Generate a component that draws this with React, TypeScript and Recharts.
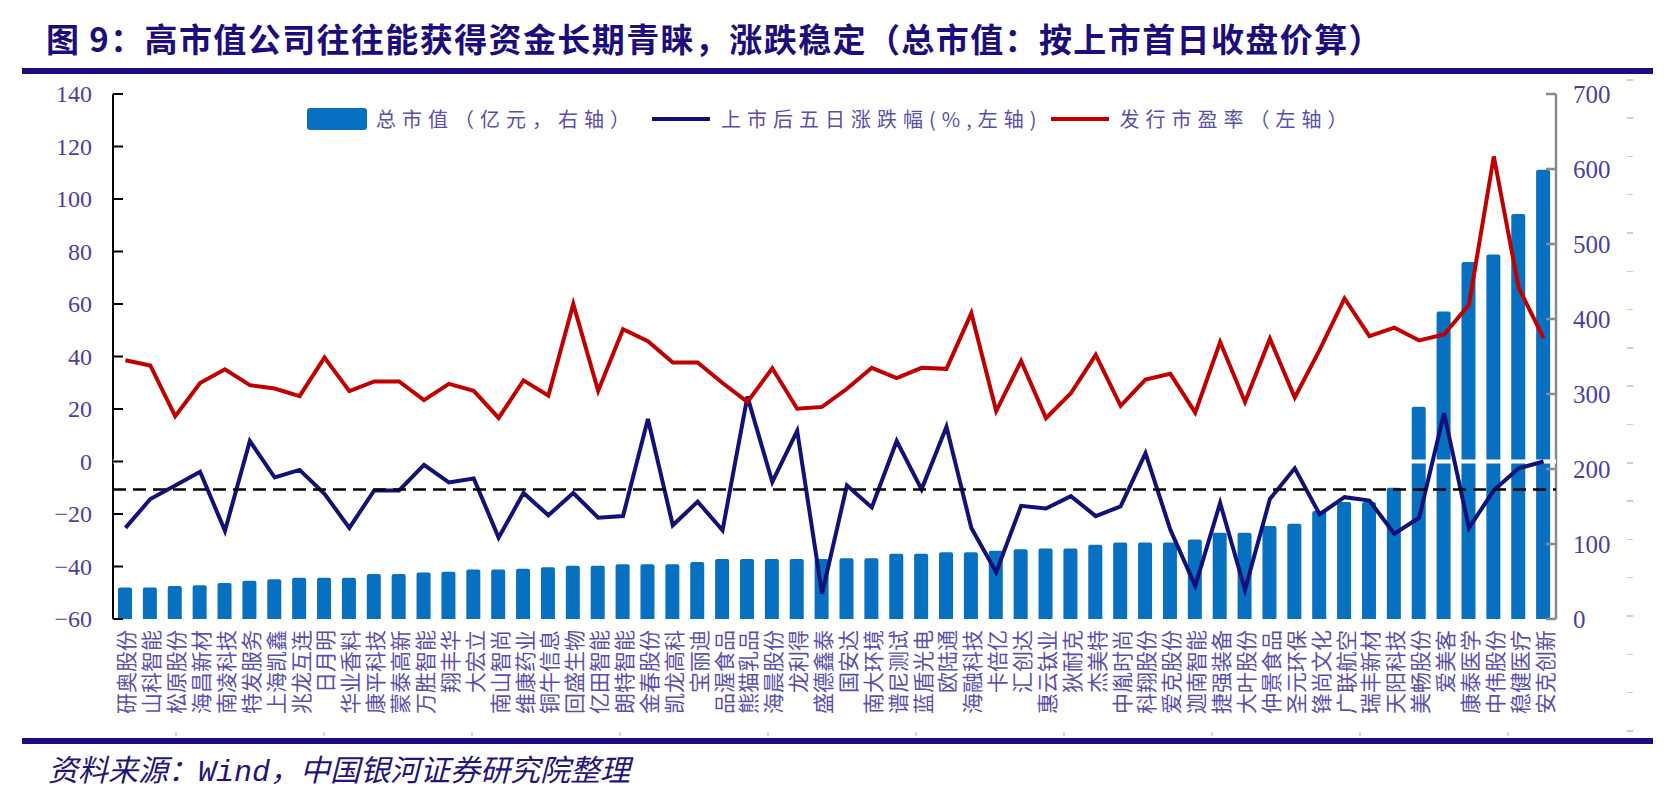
import React from "react";
import {
  ComposedChart,
  Bar,
  Line,
  XAxis,
  YAxis,
  ReferenceLine,
  Legend
} from "recharts";

// 2020 H2 ChiNext IPOs, sorted by market cap on first trading day
const companies = [
  "研奥股份", "山科智能", "松原股份", "海昌新材", "南凌科技", "特发服务",
  "上海凯鑫", "兆龙互连", "日月明", "华业香料", "康平科技", "蒙泰高新",
  "万胜智能", "翔丰华", "大宏立", "南山智尚", "维康药业", "铜牛信息",
  "回盛生物", "亿田智能", "朗特智能", "金春股份", "凯龙高科", "宝丽迪",
  "品渥食品", "熊猫乳品", "海晨股份", "龙利得", "盛德鑫泰", "国安达",
  "南大环境", "谱尼测试", "蓝盾光电", "欧陆通", "海融科技", "卡倍亿",
  "汇创达", "惠云钛业", "狄耐克", "杰美特", "中胤时尚", "科翔股份",
  "爱克股份", "迦南智能", "捷强装备", "大叶股份", "仲景食品", "圣元环保",
  "锋尚文化", "广联航空", "瑞丰新材", "天阳科技", "美畅股份", "爱美客",
  "康泰医学", "中伟股份", "稳健医疗", "安克创新"
];

// 总市值（亿元）
const marketCap = [
  42, 42, 44, 45, 48, 51, 53, 55, 55, 55, 60, 60, 62, 63, 66, 66, 67, 69,
  71, 71, 73, 73, 73, 76, 80, 80, 80, 80, 80, 81, 81, 87, 87, 89, 89, 91,
  93, 94, 94, 99, 102, 102, 102, 106, 115, 115, 124, 127, 144, 156, 156, 175,
  283, 410, 476, 486, 540, 599
];

// 上市后五日涨跌幅（%）
const fiveDayChange = [
  -25.3, -14.3, -9.1, -3.9, -26.4, 7.8, -6.1, -3.2, -12.3, -25.3, -11, -11,
  -1.3, -8, -6.5, -29, -12, -20.5, -12, -21.4, -20.8, 16.2, -24.3, -15.3,
  -26.2, 24.7, -7.8, 11.7, -50.4, -9.1, -17.5, 7.8, -10.6, 13.2, -25.3, -42.2,
  -16.9, -17.9, -13.2, -20.8, -17.1, 3.2, -26, -47.4, -15.8, -48.9, -14.3, -2.6,
  -20.1, -13.6, -14.9, -27.5, -21.4, 18.4, -25.3, -11, -2.6, 0
];

// 发行市盈率
const issuePE = [
  38.6, 36.6, 17.3, 29.9, 35.1, 29.1, 27.8, 24.9, 39.6, 26.8, 30.5, 30.5,
  23.4, 29.6, 26.9, 16.6, 30.9, 25.1, 60, 26.9, 50.4, 45.8, 37.7, 37.7,
  29.9, 22.7, 35.5, 20.1, 20.8, 27.7, 35.7, 31.8, 35.7, 35.3, 56.5, 19.2,
  38.3, 16.5, 26, 40.6, 21.2, 31.2, 33.4, 18.6, 45.5, 22.7, 46.8, 24.4,
  42.5, 62.1, 47.8, 51, 46.1, 48.4, 59.7, 116.2, 66.2, 47
];

const averageChange = -10.7;
const leftTicks = [-60, -40, -20, 0, 20, 40, 60, 80, 100, 120, 140];
const rightTicks = [0, 100, 200, 300, 400, 500, 600, 700];
const seriesOrder = ["cap", "change", "pe"];

const data = companies.map((name, i) => ({
  name,
  cap: marketCap[i],
  change: fiveDayChange[i],
  pe: issuePE[i]
}));

const NAVY = "#1c0c7c";
const TICK_TEXT = "#4a3f9e";
const LABEL_TEXT = "#5a4fab";
const BAR_BLUE = "#0870c1";
const LINE_NAVY = "#111178";
const LINE_RED = "#c00000";
const CJK = '"Noto Sans CJK SC", sans-serif';
const SERIF = '"Liberation Serif", "Times New Roman", serif';

const fmt = (v: number) => (v < 0 ? `\u2212${-v}` : `${v}`);

const LeftTick = ({ x, y, payload }: any) => (
  <g>
    <line x1={x} x2={x + 10} y1={y} y2={y} stroke="#000" strokeWidth={2} />
    <text
      x={x - 21}
      y={y}
      textAnchor="end"
      dominantBaseline="central"
      fill={TICK_TEXT}
      fontSize={24}
      fontFamily={SERIF}
    >
      {fmt(payload.value)}
    </text>
  </g>
);

const RightTick = ({ x, y, payload }: any) => (
  <g>
    <line x1={x} x2={x - 10} y1={y} y2={y} stroke="#8a8a8a" strokeWidth={2.5} />
    <text
      x={x + 17}
      y={y}
      textAnchor="start"
      dominantBaseline="central"
      fill={TICK_TEXT}
      fontSize={25}
      fontFamily={SERIF}
    >
      {payload.value}
    </text>
  </g>
);

const CategoryTick = ({ x, y, payload }: any) => (
  <text
    x={x}
    y={y + 11}
    transform={`rotate(-90, ${x}, ${y + 11})`}
    textAnchor="end"
    dominantBaseline="central"
    fill={LABEL_TEXT}
    fontSize={21}
    fontFamily={CJK}
  >
    {payload.value}
  </text>
);

const renderLegend = (props: any) => {
  const items = [...(props.payload || [])].sort(
    (a: any, b: any) => seriesOrder.indexOf(a.dataKey) - seriesOrder.indexOf(b.dataKey)
  );
  return (
    <div
      style={{
        display: "flex",
        alignItems: "center",
        fontFamily: CJK,
        fontSize: 20,
        letterSpacing: 6,
        color: LABEL_TEXT,
        whiteSpace: "nowrap"
      }}
    >
      {items.map((item: any, i: number) => (
        <div
          key={i}
          style={{ display: "flex", alignItems: "center", marginRight: i === 0 ? 16 : 8 }}
        >
          {item.type === "rect" ? (
            <span
              style={{
                display: "inline-block",
                width: 60,
                height: 22,
                borderRadius: 3,
                background: item.color,
                marginRight: 9
              }}
            />
          ) : (
            <span
              style={{
                display: "inline-block",
                width: 58,
                height: 4,
                background: item.color,
                marginRight: 11
              }}
            />
          )}
          <span>{item.value}</span>
        </div>
      ))}
    </div>
  );
};

const rulerMarks = Array.from({ length: 18 }, (_, k) => k);
const footMarks = Array.from({ length: 10 }, (_, k) => k);

export default function App() {
  return (
    <div
      style={{
        position: "absolute",
        left: 0,
        top: 0,
        width: 1669,
        height: 804,
        background: "#fff",
        fontFamily: CJK,
        overflow: "hidden"
      }}
    >
      <div
        style={{
          position: "absolute",
          left: 46,
          top: 21,
          fontSize: 33,
          lineHeight: "34px",
          letterSpacing: 1.4,
          fontWeight: 700,
          color: NAVY,
          whiteSpace: "nowrap"
        }}
      >
        图 9：高市值公司往往能获得资金长期青睐，涨跌稳定（总市值：按上市首日收盘价算）
      </div>
      <div style={{ position: "absolute", left: 22, top: 68, width: 1631, height: 6, background: NAVY }} />

      {rulerMarks.map((k) => (
        <div
          key={`r${k}`}
          style={{ position: "absolute", left: 1627, top: 79 + k * 38.3, width: 6, height: 1.5, background: "#cfcfcf" }}
        />
      ))}
      {footMarks.map((k) => (
        <div
          key={`f${k}`}
          style={{ position: "absolute", left: 175 + k * 148, top: 732, width: 1.5, height: 4, background: "#d6d6d6" }}
        />
      ))}

      <div style={{ position: "absolute", left: 0, top: 0 }}>
        <ComposedChart
          width={1669}
          height={804}
          data={data}
          margin={{ top: 94, right: 0, bottom: 0, left: 0 }}
        >
          <XAxis
            dataKey="name"
            interval={0}
            axisLine={false}
            tickLine={false}
            tickSize={0}
            tickMargin={0}
            height={185}
            tick={<CategoryTick />}
          />
          <YAxis
            yAxisId="left"
            orientation="left"
            width={113}
            domain={[-60, 140]}
            ticks={leftTicks}
            interval={0}
            axisLine={{ stroke: "#000", strokeWidth: 2 }}
            tickLine={false}
            tickSize={0}
            tickMargin={0}
            tick={<LeftTick />}
          />
          <YAxis
            yAxisId="right"
            orientation="right"
            width={113}
            domain={[0, 700]}
            ticks={rightTicks}
            interval={0}
            axisLine={{ stroke: "#8a8a8a", strokeWidth: 2.5 }}
            tickLine={false}
            tickSize={0}
            tickMargin={0}
            tick={<RightTick />}
          />
          <Legend
            content={renderLegend}
            layout="horizontal"
            verticalAlign="middle"
            align="center"
            wrapperStyle={{ top: 104, left: 307, width: 1200, height: 22 }}
          />
          <Bar
            yAxisId="right"
            dataKey="cap"
            name="总市值（亿元，右轴）"
            fill={BAR_BLUE}
            barSize={14}
            radius={[2, 2, 0, 0]}
            legendType="rect"
            isAnimationActive={false}
          />
          <ReferenceLine yAxisId="left" y={0} stroke="#fff" strokeWidth={4} zIndex={550} />
          <Line
            yAxisId="left"
            type="linear"
            dataKey="change"
            name="上市后五日涨跌幅(%,左轴)"
            stroke={LINE_NAVY}
            strokeWidth={4}
            dot={false}
            legendType="line"
            isAnimationActive={false}
            zIndex={600}
          />
          <Line
            yAxisId="left"
            type="linear"
            dataKey="pe"
            name="发行市盈率（左轴）"
            stroke={LINE_RED}
            strokeWidth={4}
            dot={false}
            legendType="line"
            isAnimationActive={false}
            zIndex={600}
          />
          <ReferenceLine
            yAxisId="left"
            y={averageChange}
            stroke="#000"
            strokeWidth={2.5}
            strokeDasharray="13 7"
            zIndex={650}
          />
        </ComposedChart>
      </div>

      <div style={{ position: "absolute", left: 22, top: 738, width: 1631, height: 6, background: NAVY }} />
      <div
        style={{
          position: "absolute",
          left: 48,
          top: 757,
          fontSize: 30,
          lineHeight: "32px",
          fontStyle: "italic",
          color: "#23157a",
          fontFamily: '"Liberation Mono", "Noto Sans CJK SC", monospace',
          whiteSpace: "nowrap"
        }}
      >
        资料来源：Wind，中国银河证券研究院整理
      </div>
    </div>
  );
}
